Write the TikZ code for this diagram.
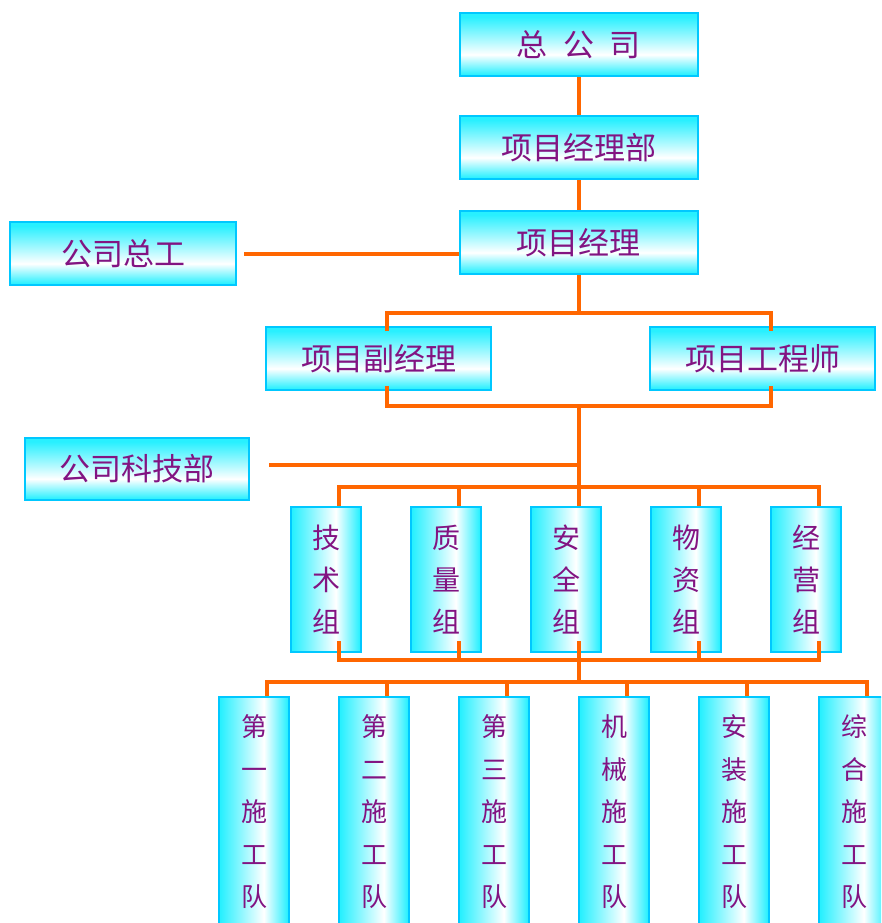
\documentclass[tikz,border=0pt]{standalone}
\usepackage{fontspec}
\usepackage{xcolor}
\usepackage{tikz}
\usetikzlibrary{positioning, calc}
\newfontfamily\cjk{Noto Sans CJK SC}
\definecolor{boxcyan}{RGB}{40, 240, 255}
\definecolor{boxedge}{RGB}{0, 200, 255}
\definecolor{linkorange}{RGB}{255, 102, 0}
\definecolor{textpurple}{RGB}{130, 20, 130}
\pgfdeclareverticalshading{hbarfill}{100bp}{color(0bp)=(boxcyan); color(26bp)=(boxcyan); color(42bp)=(white); color(72bp)=(boxcyan); color(100bp)=(boxcyan)}
\pgfdeclarehorizontalshading{vbarfill}{100bp}{color(0bp)=(boxcyan); color(26bp)=(boxcyan); color(57bp)=(white); color(74bp)=(boxcyan); color(100bp)=(boxcyan)}

\begin{document}
\begin{tikzpicture}[
    x=1pt, y=-1pt,
    hbox/.style={rectangle, draw=boxedge, line width=2pt, shading=hbarfill, minimum height=63pt, inner sep=0pt, text=textpurple, font=\cjk\fontsize{31}{36}\selectfont},
    grpbox/.style={rectangle, draw=boxedge, line width=2pt, shading=vbarfill, minimum width=70pt, minimum height=145pt, inner sep=0pt, align=center, text=textpurple, font=\cjk\fontsize{28}{42}\selectfont},
    teambox/.style={rectangle, draw=boxedge, line width=2pt, shading=vbarfill, minimum width=70pt, minimum height=230pt, inner sep=0pt, align=center, text=textpurple, font=\cjk\fontsize{26}{42.5}\selectfont},
    link/.style={draw=linkorange, line width=4pt}
]
\useasboundingbox (0,0) rectangle (881,923);
\clip (0,0) rectangle (881,923);

% Top line
\node[hbox, minimum width=238pt] (zgs) at (578.5,44.5) {总\enspace 公\enspace 司};
\node[hbox, minimum width=238pt] (xmjlb) at (578.5,147.5) {项目经理部};
\node[hbox, minimum width=238pt] (xmjl) at (578.5,242.5) {项目经理};
\node[hbox, minimum width=226pt] (gszg) at (123,253.5) {公司总工};

% Deputies
\node[hbox, minimum width=225pt] (fjl) at (378.5,358.5) {项目副经理};
\node[hbox, minimum width=225pt] (gcs) at (762.5,358.5) {项目工程师};
\node[hbox, minimum width=224pt, minimum height=62pt] (kjb) at (137,469) {公司科技部};

% Groups
\node[grpbox] (g1) at (326,579.5) {技\\术\\组};
\node[grpbox] (g2) at (446,579.5) {质\\量\\组};
\node[grpbox] (g3) at (566,579.5) {安\\全\\组};
\node[grpbox] (g4) at (686,579.5) {物\\资\\组};
\node[grpbox] (g5) at (806,579.5) {经\\营\\组};

% Teams
\node[teambox] (t1) at (254,812) {第\\一\\施\\工\\队};
\node[teambox] (t2) at (374,812) {第\\二\\施\\工\\队};
\node[teambox] (t3) at (494,812) {第\\三\\施\\工\\队};
\node[teambox] (t4) at (614,812) {机\\械\\施\\工\\队};
\node[teambox] (t5) at (734,812) {安\\装\\施\\工\\队};
\node[teambox] (t6) at (854,812) {综\\合\\施\\工\\队};

% Bus points
\coordinate (b1) at (578.5,313);
\coordinate (b2) at (578.5,406);
\coordinate (kj) at (578.5,465);
\coordinate (b3) at (578.5,487);
\coordinate (b4) at (578.5,660);
\coordinate (b5) at (578.5,682);

% Links
\draw[link] (zgs) -- (xmjlb);
\draw[link] (xmjlb) -- (xmjl);
\draw[link, shorten <=7pt] (gszg.east) -- (gszg.east -| xmjl.west);
\draw[link] (xmjl.south) -- (b1);
\draw[link] ([xshift=8.5pt,yshift=-5pt]fjl.north) |- (b1) -| ([xshift=8.5pt,yshift=-5pt]gcs.north);
\draw[link] ([xshift=8.5pt,yshift=5pt]fjl.south) |- (b2) -| ([xshift=8.5pt,yshift=5pt]gcs.south);
\draw[link] (b2) -- (b3);
\draw[link, shorten >=19pt] (kj) -- (kj -| kjb.east);
\foreach \i in {1,...,5} {
  \draw[link] ([xshift=12.5pt]g\i.north) |- (b3);
  \draw[link] ([xshift=12.5pt,yshift=12pt]g\i.south) |- (b4);
}
\draw[link] (b4) -- (b5);
\foreach \i in {1,...,6}
  \draw[link] ([xshift=12.5pt]t\i.north) |- (b5);

\end{tikzpicture}
\end{document}
